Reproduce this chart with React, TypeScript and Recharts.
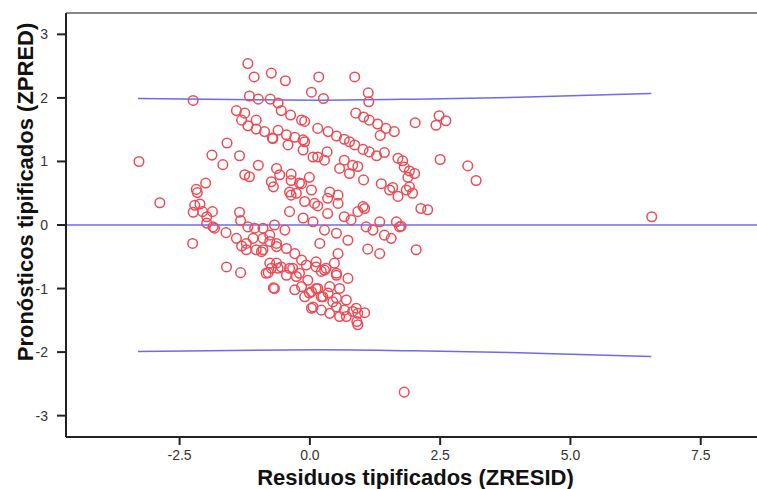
import { ScatterChart, Scatter, XAxis, YAxis, ReferenceLine, Label } from "recharts";

// standardized residual (x) / standardized predicted (y)
const zresid = [
  -1.19, -1.07, -0.74, -2.24, -1.16, -0.99, -0.76, -0.61, -1.41, -1.25, -1.31, -1.03, -1.19, -1.03, -0.87,
  -0.72, -0.61, -1.59, -3.28, -1.88, -1.67, -1.35, -0.99, -0.64, -1.25, -1.16, -0.74, -2.0, -2.18,
  -0.47, 0.17, 0.86, 0.03, 0.26, 1.12, 1.13, -0.55, -0.37, -0.16, -0.1, 0.15, 0.35, 0.51, 0.66, 0.76,
  0.86, 1.02, 1.14, 1.28, 1.43, 0.88, 1.03, 1.14, 1.3, 1.46, 1.62, 1.35, 2.02, 2.42, 2.48, 2.61, 2.5,
  -0.71, -0.45, -0.29, -0.13, -0.1, -0.42, -0.13, 0.06, 0.15, 0.28, 0.33, 0.66, 0.82, 0.92, 0.57, 0.76,
  1.03, 1.69, 1.78, 1.81, 1.91, 2.01, 1.88, -0.58, -0.36, -0.36, -0.01, -0.16, 1.37, 1.59, 1.91,
  -0.7, -0.39, -0.2, 0.03, -0.36, -0.26, 0.38, 0.54, 0.34, -0.1, 0.09, 0.15, 0.34, 0.54, -0.39, -0.13,
  0.06, 0.28, 0.51, 0.73, 0.66, 0.79, 0.92, 1.05, 1.02, 1.53, 1.69, 1.85, 1.97, 2.13, 2.26, 1.08, 1.21,
  1.34, 1.43, 1.56, 1.66, 1.72, 1.11, 1.34, 2.04, -0.68, -0.48, -0.64, -0.45, -0.29, -0.16, -0.61, -0.39,
  -0.07, 0.12, 0.19, 0.54, 0.47, 0.28, 0.51, 0.73, -0.26, -0.04, 0.15, 0.38, 0.57, -0.68, -0.29, -0.01,
  0.25, 0.51, 0.7, 0.89, 0.06,
  -2.16, -2.88, -2.21, -2.11, -2.24, -2.06, -1.98, -1.87, -1.98, -1.86, -1.83, -1.61, -1.41, -1.31, -1.22,
  -1.09, -1.06, -1.19, -1.35, -1.33, -0.9, -0.9, -0.77, -1.03, -0.93, -0.77, -0.64, -1.22, -0.9, -2.25,
  -1.6, -1.33, -0.74, -0.8, -0.64, -0.7,
  -0.84, -0.77, -0.55, -0.45, -0.33, -0.2, 0.12, 0.22, 0.31, 0.51, -0.16, -0.1, 0.03, 0.12, 0.22, 0.35,
  0.44, 0.03, 0.22, 0.38, 0.51, 0.66, 0.82, 0.92, 1.05, 0.92, 0.7, 0.57, 0.9,
  3.03, 3.19, 6.56, 1.81, 1.75,
];
const zpred = [
  2.54, 2.33, 2.39, 1.96, 2.03, 1.98, 1.98, 1.92, 1.8, 1.76, 1.65, 1.65, 1.56, 1.51, 1.47,
  1.37, 1.49, 1.29, 1.0, 1.1, 0.95, 1.09, 0.94, 0.89, 0.79, 0.76, 0.68, 0.66, 0.56,
  2.27, 2.33, 2.33, 2.09, 1.99, 2.08, 1.94, 1.8, 1.73, 1.65, 1.63, 1.52, 1.47, 1.4, 1.35, 1.31,
  1.26, 1.19, 1.15, 1.09, 1.14, 1.76, 1.7, 1.65, 1.59, 1.52, 1.47, 1.41, 1.61, 1.57, 1.72, 1.64, 1.03,
  1.36, 1.42, 1.38, 1.34, 1.31, 1.26, 1.18, 1.07, 1.07, 1.02, 1.15, 1.02, 0.94, 0.92, 0.89, 0.81,
  0.71, 1.05, 1.01, 0.91, 0.85, 0.81, 0.75, 0.79, 0.8, 0.7, 0.75, 0.65, 0.65, 0.59, 0.6,
  0.6, 0.52, 0.66, 0.55, 0.47, 0.5, 0.52, 0.47, 0.42, 0.37, 0.34, 0.3, 0.18, 0.34, 0.21, 0.11,
  0.05, -0.08, -0.13, -0.24, 0.13, 0.08, 0.21, 0.26, 0.29, 0.55, 0.45, 0.55, 0.5, 0.26, 0.24, -0.03, -0.08,
  0.05, -0.16, -0.21, 0.05, -0.03, -0.38, -0.45, -0.39, 0.0, -0.08, -0.29, -0.37, -0.45, -0.55, -0.68, -0.68,
  -0.63, -0.58, -0.29, -0.45, -0.6, -0.71, -0.76, -0.84, -0.81, -0.87, -1.0, -0.97, -1.0, -1.0, -1.02, -1.07,
  -1.13, -1.15, -1.18, -1.31, -1.29,
  0.51, 0.35, 0.31, 0.33, 0.2, 0.21, 0.13, 0.21, 0.03, -0.03, -0.05, -0.12, -0.21, -0.33, -0.29,
  -0.21, -0.05, -0.03, 0.2, 0.07, -0.05, -0.21, -0.16, -0.39, -0.42, -0.26, -0.34, -0.39, -0.39, -0.29,
  -0.66, -0.75, -0.68, -0.75, -0.6, -0.99,
  -0.76, -0.6, -0.66, -0.79, -0.68, -0.76, -0.66, -0.73, -0.68, -0.79, -0.97, -1.13, -1.05, -1.0, -1.13, -1.07,
  -1.21, -1.31, -1.34, -1.39, -1.29, -1.34, -1.36, -1.39, -1.38, -1.57, -1.44, -1.44, -1.52,
  0.93, 0.7, 0.13, -2.63, -0.02,
];

// blue band curves
const bandX = [-3.3, -1.5, 0.2, 2, 4, 6.55];
const upperBand = [1.99, 1.975, 1.965, 1.98, 2.01, 2.07];
const lowerBand = [-1.99, -1.975, -1.965, -1.98, -2.01, -2.07];

const xTicks = [-2.5, 0, 2.5, 5, 7.5];
const yTicks = [-3, -2, -1, 0, 1, 2, 3];
const xDomain = [-4.68, 8.58];
const yDomain = [-3.336, 3.336];

const points = zresid.map((x, i) => ({ x, y: zpred[i] }));
const upper = bandX.map((x, i) => ({ x, y: upperBand[i] }));
const lower = bandX.map((x, i) => ({ x, y: lowerBand[i] }));

const FONT = "'Liberation Sans', Arial, sans-serif";
const RED = "#ee4b55";
const BLUE = "#6b6bf2";

const Ring = (props: any) => (
  <circle cx={props.cx} cy={props.cy} r={4.8} fill="none" stroke={RED} strokeWidth={1.5} />
);

export default function App() {
  return (
    <div style={{ position: "absolute", left: 0, top: 0, background: "#fff" }}>
      <ScatterChart
        width={757}
        height={489}
        margin={{ top: 13, right: 0, bottom: 0, left: 0 }}
        style={{ fontFamily: FONT }}
      >
        <XAxis
          dataKey="x"
          type="number"
          domain={xDomain}
          ticks={xTicks}
          allowDataOverflow
          height={52}
          tickSize={8}
          tickMargin={5}
          tickFormatter={(v: number) => v.toFixed(1)}
          axisLine={{ stroke: "#222", strokeWidth: 2 }}
          tickLine={{ stroke: "#222", strokeWidth: 2 }}
          tick={{ fontSize: 14, fill: "#333", fontFamily: FONT }}
        >
          <Label
            content={(p: any) => {
              const vb = p.viewBox || { x: 66, y: 437, width: 691, height: 52 };
              return (
                <text
                  x={vb.x + vb.width / 2 + 4}
                  y={vb.y + 48}
                  textAnchor="middle"
                  fontSize={22}
                  fontWeight="bold"
                  fill="#111"
                  fontFamily={FONT}
                >
                  Residuos tipificados (ZRESID)
                </text>
              );
            }}
          />
        </XAxis>
        <YAxis
          dataKey="y"
          type="number"
          domain={yDomain}
          ticks={yTicks}
          allowDataOverflow
          width={66}
          tickSize={9}
          tickMargin={9}
          axisLine={{ stroke: "#222", strokeWidth: 2 }}
          tickLine={{ stroke: "#222", strokeWidth: 2 }}
          tick={{ fontSize: 14, fill: "#333", fontFamily: FONT }}
        >
          <Label
            content={() => (
              <text
                x={25}
                y={192}
                transform="rotate(-90 25 192)"
                textAnchor="middle"
                dominantBaseline="central"
                fontSize={22}
                fontWeight="bold"
                fill="#111"
                fontFamily={FONT}
              >
                Pronósticos tipificados (ZPRED)
              </text>
            )}
          />
        </YAxis>
        <ReferenceLine y={yDomain[1]} stroke="#888" strokeWidth={2} ifOverflow="visible" />
        <ReferenceLine y={0} stroke={BLUE} strokeWidth={1.5} />
        <Scatter
          data={upper}
          line={{ stroke: BLUE, strokeWidth: 1.5 }}
          lineJointType="monotoneX"
          shape={() => <g />}
          isAnimationActive={false}
        />
        <Scatter
          data={lower}
          line={{ stroke: BLUE, strokeWidth: 1.5 }}
          lineJointType="monotoneX"
          shape={() => <g />}
          isAnimationActive={false}
        />
        <Scatter data={points} shape={Ring} isAnimationActive={false} />
      </ScatterChart>
    </div>
  );
}
